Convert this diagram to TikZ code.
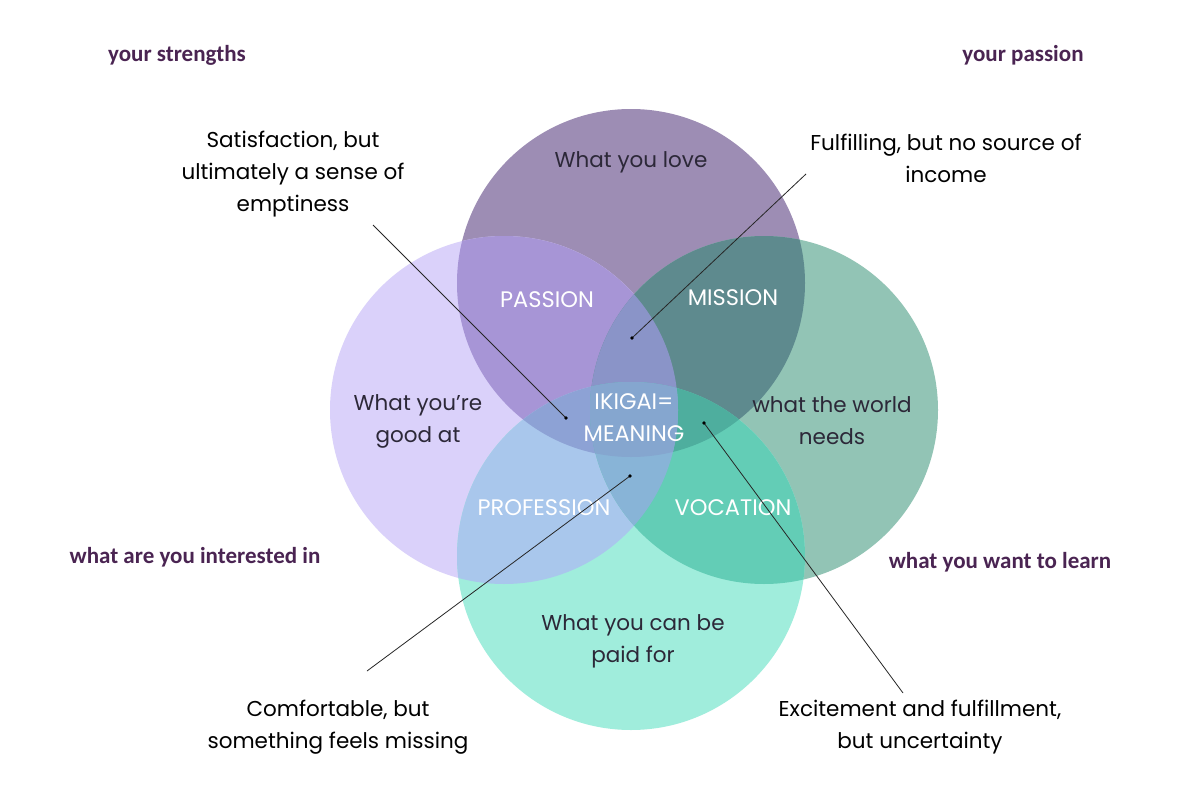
\documentclass[tikz,border=0pt]{standalone}
\usepackage{fontspec}
\setmainfont{Poppins}
\newfontfamily\headfont{Carlito}
\definecolor{headC}{HTML}{4A2452}
\definecolor{loveC}{HTML}{9D8DB4}
\definecolor{goodC}{HTML}{DAD1FA}
\definecolor{worldC}{HTML}{92C4B5}
\definecolor{paidC}{HTML}{A0EDDC}
\definecolor{passionC}{HTML}{A795D6}
\definecolor{missionC}{HTML}{5E8A8E}
\definecolor{professionC}{HTML}{A9C7EC}
\definecolor{vocationC}{HTML}{63CDB6}
\definecolor{tlrC}{HTML}{8A94C8}
\definecolor{tlbC}{HTML}{8DA2D5}
\definecolor{trbC}{HTML}{4EAE9E}
\definecolor{lrbC}{HTML}{88B4D7}
\definecolor{ikigaiC}{HTML}{85A6CF}
\definecolor{ringtxt}{HTML}{2C2838}
\tikzset{
  head/.style={font=\headfont\bfseries\fontsize{23}{26}\selectfont, text=headC, inner sep=0pt},
  note/.style={font=\fontsize{21.5}{32}\selectfont, align=center, inner sep=0pt},
  ring/.style={note, text=ringtxt},
  zone/.style={note, font=\fontsize{22.5}{32}\selectfont, text=white},
  pointer/.style={line width=0.8pt, black!85},
}
% circles of the diagram
\def\circT{(631,283) circle [radius=174pt]}
\def\circL{(504,410) circle [radius=174pt]}
\def\circR{(764,410) circle [radius=174pt]}
\def\circB{(631,556) circle [radius=174pt]}
\begin{document}
\begin{tikzpicture}[x=1pt, y=-1pt]
\useasboundingbox (0,0) rectangle (1200,800);
\fill[white] (0,0) rectangle (1200,800);

% Drawing the four circles
\fill[loveC] \circT;
\fill[goodC] \circL;
\fill[worldC] \circR;
\fill[paidC] \circB;

% Drawing the overlaps of two
\begin{scope}\clip \circT; \fill[passionC] \circL; \end{scope}
\begin{scope}\clip \circT; \fill[missionC] \circR; \end{scope}
\begin{scope}\clip \circL; \fill[professionC] \circB; \end{scope}
\begin{scope}\clip \circR; \fill[vocationC] \circB; \end{scope}

% Drawing the overlaps of three
\begin{scope}\clip \circT; \clip \circL; \fill[tlrC] \circR; \end{scope}
\begin{scope}\clip \circT; \clip \circL; \fill[tlbC] \circB; \end{scope}
\begin{scope}\clip \circT; \clip \circR; \fill[trbC] \circB; \end{scope}
\begin{scope}\clip \circL; \clip \circR; \fill[lrbC] \circB; \end{scope}

% Drawing the centre
\begin{scope}\clip \circT; \clip \circL; \clip \circR; \fill[ikigaiC] \circB; \end{scope}

% Marking the corner headings
\node[head] (strengths) at (177,55) {your strengths};
\node[head] (passion) at (1023,55) {your passion};
\node[head] (interest) at (195,557) {what are you interested in};
\node[head] (learn) at (1000,562) {what you want to learn};

% Marking the circles
\node[ring] (love) at (631,162) {What you love};
\node[ring] (good) at (418,421) {What you’re\\good at};
\node[ring] (world) at (832,421) {what the world\\needs};
\node[ring] (paid) at (633,641) {What you can be\\paid for};

% Marking the overlaps
\node[zone] (passionz) at (547,300) {PASSION};
\node[zone] (missionz) at (733,298) {MISSION};
\node[zone] (professionz) at (544,508) {PROFESSION};
\node[zone] (vocationz) at (733,508) {VOCATION};
\node[zone] (ikigai) at (634,418) {IKIGAI=\\MEANING};

% Marking the notes
\node[note] (emptiness) at (293,174) {Satisfaction, but\\ultimately a sense of\\emptiness};
\node[note] (income) at (946,158) {Fulfilling, but no source of\\income};
\node[note] (missing) at (338,727) {Comfortable, but\\something feels missing};
\node[note] (uncertain) at (920,727) {Excitement and fulfillment,\\but uncertainty};

% Drawing the pointers
\coordinate (emptinessS) at (373,225);
\coordinate (emptinessE) at (566,418);
\coordinate (incomeS) at (806,174);
\coordinate (incomeE) at (632,338);
\coordinate (missingS) at (367,671);
\coordinate (missingE) at (630,476);
\coordinate (uncertainS) at (903,693);
\coordinate (uncertainE) at (704,423);
\foreach \p in {emptiness,income,missing,uncertain}{
  \draw[pointer] (\p S) -- (\p E);
  \fill[black] (\p E) circle [radius=1.8pt];
}
\end{tikzpicture}
\end{document}
